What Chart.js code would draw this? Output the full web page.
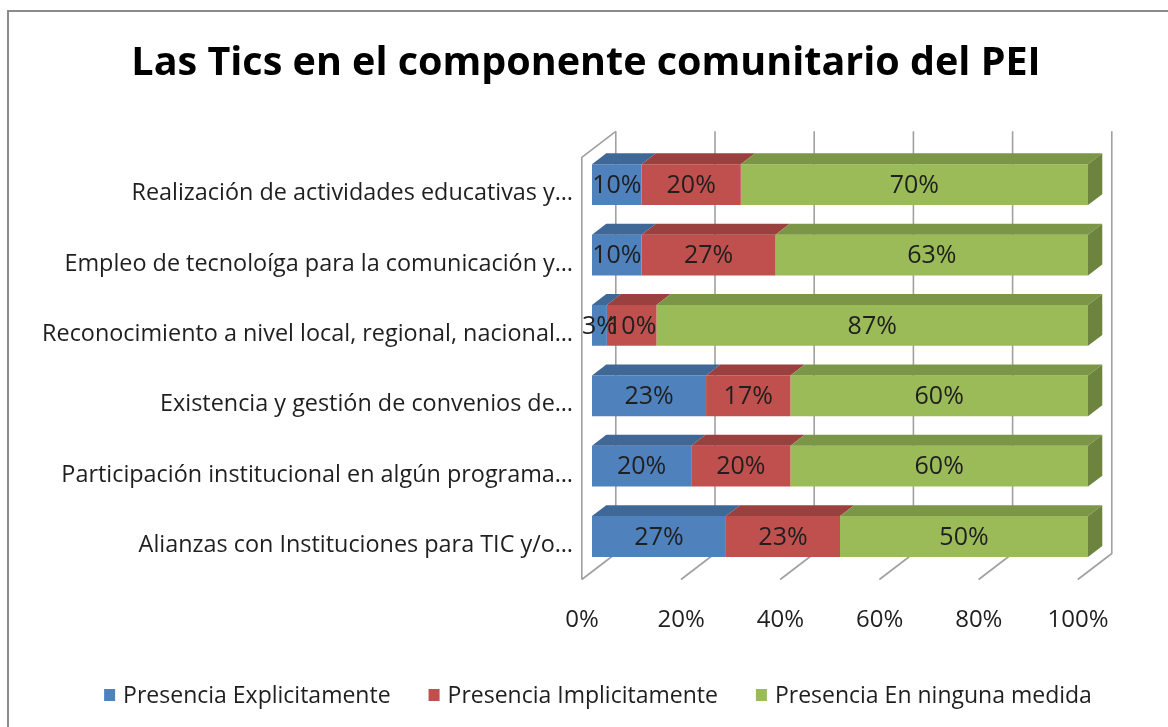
<!DOCTYPE html>
<html>
<head>
<meta charset="utf-8">
<script src="https://cdn.jsdelivr.net/npm/chart.js@4.4.0/dist/chart.umd.min.js"></script>
<style>
  html, body { margin: 0; padding: 0; background: #fff; }
  canvas { display: block; }
</style>
</head>
<body>
<canvas id="chart" width="1168" height="727"></canvas>
<script>
// Data
const chartTitle = 'Las Tics en el componente comunitario del PEI';
const categories = [
    'Realización de actividades educativas y…',
    'Empleo de tecnoloíga para la comunicación y…',
    'Reconocimiento a nivel local, regional, nacional…',
    'Existencia y gestión de convenios de…',
    'Participación institucional en algún programa…',
    'Alianzas con Instituciones para TIC y/o…'
];
const seriesNames = ['Presencia Explicitamente', 'Presencia Implicitamente', 'Presencia En ninguna medida'];
const explicitValues = [10, 10, 3, 23, 20, 27];
const implicitValues = [20, 27, 10, 17, 20, 23];
const noneValues = [70, 63, 87, 60, 60, 50];
const xTicks = [0, 20, 40, 60, 80, 100];

const FONT = "'Open Sans', sans-serif";
const colors = ['#4F81BD', '#C0504D', '#9BBB59'];
const topColors = ['#3F6897', '#9A403E', '#7C9647'];
const sideColors = ['#375B85', '#873836', '#6C843E'];

// depth of the 3D box (front plane -> back wall)
const depth = { x: 34, y: -26 };
const frontK = -0.3, backK = 0.7, barK = 0.42;

const box3d = {
    id: 'box3d',
    beforeDraw(chart) {
        const { ctx, chartArea: a, scales: { x } } = chart;
        ctx.save();
        ctx.fillStyle = '#fff';
        ctx.fillRect(0, 0, chart.width, chart.height);

        // outer frame
        ctx.strokeStyle = '#8c8c8c';
        ctx.lineWidth = 2;
        ctx.beginPath();
        ctx.moveTo(8, chart.height);
        ctx.lineTo(8, 11);
        ctx.lineTo(chart.width, 11);
        ctx.stroke();

        // title
        ctx.fillStyle = '#000';
        ctx.font = 'bold 39.5px ' + FONT;
        ctx.textAlign = 'center';
        ctx.textBaseline = 'middle';
        ctx.fillText(chartTitle, 586, 64);

        const fx = depth.x * frontK, fy = depth.y * frontK;
        const bx = depth.x * backK, by = depth.y * backK;
        ctx.strokeStyle = '#a0a0a0';
        ctx.lineWidth = 1.6;
        ctx.beginPath();
        xTicks.forEach(v => {
            const px = x.getPixelForValue(v);
            // back wall gridline
            ctx.moveTo(px + bx, a.top + by);
            ctx.lineTo(px + bx, a.bottom + by);
            // floor line
            ctx.lineTo(px + fx, a.bottom + fy);
        });
        // left side wall
        const lx = x.getPixelForValue(0);
        ctx.moveTo(lx + fx, a.bottom + fy);
        ctx.lineTo(lx + fx, a.top + fy);
        ctx.lineTo(lx + bx, a.top + by);
        ctx.stroke();
        ctx.restore();
    },
    afterDatasetsDraw(chart) {
        const { ctx } = chart;
        const dx = depth.x * barK, dy = depth.y * barK;
        const last = chart.data.datasets.length - 1;
        ctx.save();
        chart.data.datasets.forEach((ds, i) => {
            chart.getDatasetMeta(i).data.forEach(el => {
                const p = el.getProps(['x', 'y', 'base', 'height'], true);
                const t = p.y - p.height / 2;
                ctx.fillStyle = topColors[i];
                ctx.beginPath();
                ctx.moveTo(p.base, t);
                ctx.lineTo(p.x, t);
                ctx.lineTo(p.x + dx, t + dy);
                ctx.lineTo(p.base + dx, t + dy);
                ctx.closePath();
                ctx.fill();
                if (i === last) {
                    ctx.fillStyle = sideColors[i];
                    ctx.beginPath();
                    ctx.moveTo(p.x, t);
                    ctx.lineTo(p.x + dx, t + dy);
                    ctx.lineTo(p.x + dx, t + dy + p.height);
                    ctx.lineTo(p.x, t + p.height);
                    ctx.closePath();
                    ctx.fill();
                }
            });
        });
        // value labels
        ctx.fillStyle = '#1f1f1f';
        ctx.font = '25px ' + FONT;
        ctx.textAlign = 'center';
        ctx.textBaseline = 'middle';
        chart.data.datasets.forEach((ds, i) => {
            chart.getDatasetMeta(i).data.forEach((el, j) => {
                const p = el.getProps(['x', 'y', 'base'], true);
                ctx.fillText(ds.data[j] + '%', (p.x + p.base) / 2, p.y + 1);
            });
        });
        ctx.restore();
    },
    afterDraw(chart) {
        // legend
        const { ctx } = chart;
        ctx.save();
        ctx.font = '23px ' + FONT;
        ctx.textBaseline = 'middle';
        const sq = 11, gap = 8, itemGap = 38;
        const widths = seriesNames.map(s => ctx.measureText(s).width);
        const total = widths.reduce((s, w) => s + sq + gap + w, 0) + itemGap * (seriesNames.length - 1);
        let px = 598 - total / 2;
        const cy = 695;
        seriesNames.forEach((s, i) => {
            ctx.fillStyle = colors[i];
            ctx.fillRect(px, cy - 6, sq, 12);
            ctx.fillStyle = '#1f1f1f';
            ctx.fillText(s, px + sq + gap, cy + 1);
            px += sq + gap + widths[i] + itemGap;
        });
        ctx.restore();
    }
};

new Chart(document.getElementById('chart'), {
    type: 'bar',
    data: {
        labels: categories,
        datasets: [
            { label: seriesNames[0], data: explicitValues, backgroundColor: colors[0] },
            { label: seriesNames[1], data: implicitValues, backgroundColor: colors[1] },
            { label: seriesNames[2], data: noneValues, backgroundColor: colors[2] }
        ]
    },
    options: {
        indexAxis: 'y',
        responsive: false,
        animation: false,
        barPercentage: 0.58,
        categoryPercentage: 1,
        layout: { padding: { left: 0, right: 80, top: 149.5, bottom: 0 } },
        plugins: {
            legend: { display: false },
            tooltip: { enabled: false },
            title: { display: false }
        },
        scales: {
            x: {
                stacked: true,
                min: 0,
                max: 100,
                afterBuildTicks: s => { s.ticks = xTicks.map(v => ({ value: v })); },
                grid: { display: false, drawTicks: false },
                border: { display: false },
                ticks: {
                    callback: v => v + '%',
                    color: '#1f1f1f',
                    font: { family: FONT, size: 24 },
                    padding: 34,
                    labelOffset: -10,
                    maxRotation: 0
                },
                afterFit: s => { s.height = 155.3; }
            },
            y: {
                stacked: true,
                grid: { display: false, drawTicks: false },
                border: { display: false },
                ticks: {
                    color: '#1f1f1f',
                    font: { family: FONT, size: 23.4 },
                    padding: 19,
                    labelOffset: 9,
                    autoSkip: false
                },
                afterFit: s => { s.width = 592; }
            }
        }
    },
    plugins: [box3d]
});
</script>
</body>
</html>
